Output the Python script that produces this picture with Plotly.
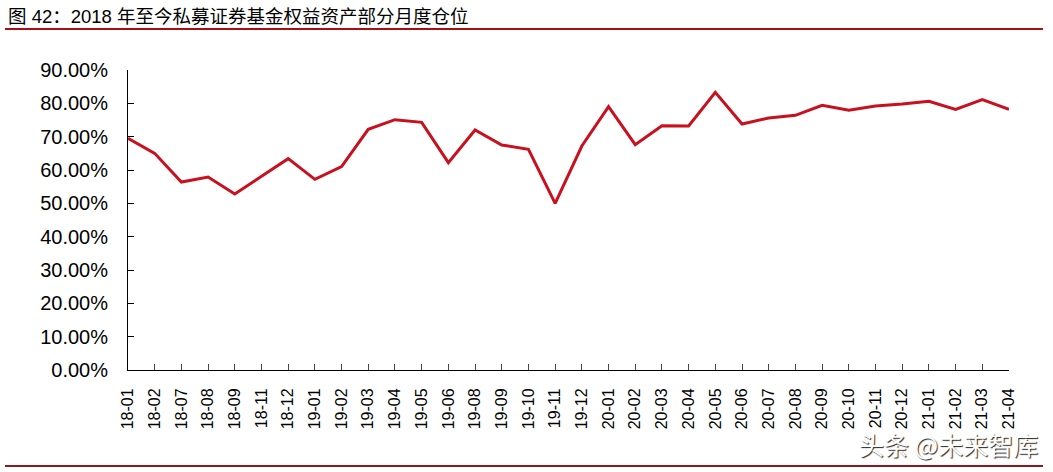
import plotly.graph_objects as go

categories = ["18-01", "18-02", "18-07", "18-08", "18-09", "18-11", "18-12",
              "19-01", "19-02", "19-03", "19-04", "19-05", "19-06", "19-08",
              "19-09", "19-10", "19-11", "19-12", "20-01", "20-02", "20-03",
              "20-04", "20-05", "20-06", "20-07", "20-08", "20-09", "20-10",
              "20-11", "20-12", "21-01", "21-02", "21-03", "21-04"]
position_pct = [69.5, 65.0, 56.4, 57.9, 52.8, 58.1, 63.4,
                57.2, 61.0, 72.2, 75.1, 74.3, 62.2, 72.0,
                67.5, 66.2, 50.0, 67.2, 79.0, 67.6, 73.3,
                73.2, 83.3, 73.8, 75.6, 76.4, 79.4, 77.9,
                79.2, 79.8, 80.6, 78.2, 81.1, 78.2]
y_ticks = [0, 10, 20, 30, 40, 50, 60, 70, 80, 90]
y_tick_labels = [f"{v:.2f}%" for v in y_ticks]

W, H = 1053, 472
L, R, T, B = 128, 1009, 70, 370

def px(x):
    return (x - L) / (R - L)

def py(y):
    return (B - y) / (B - T)

FONT = "Arial, Liberation Sans, Noto Sans CJK SC, sans-serif"

fig = go.Figure()
fig.add_trace(go.Scatter(
    x=categories, y=position_pct, mode="lines",
    line=dict(color="#C8101E", width=3),
    showlegend=False, hoverinfo="skip"))

fig.update_layout(
    width=W, height=H,
    margin=dict(l=L, r=W - R, t=T, b=H - B),
    paper_bgcolor="white", plot_bgcolor="white",
    font=dict(family=FONT, color="black"),
    xaxis=dict(
        type="category", range=[0, len(categories) - 1],
        showline=True, linecolor="black", linewidth=1,
        ticks="inside", ticklen=6, tickcolor="#444", tickwidth=1,
        tickangle=-90, tickfont=dict(size=16, family=FONT),
        ticklabelstandoff=11, showgrid=False, zeroline=False),
    yaxis=dict(
        range=[0, 90], tickvals=y_ticks, ticktext=y_tick_labels,
        showline=True, linecolor="black", linewidth=1,
        ticks="inside", ticklen=6, tickcolor="black", tickwidth=1,
        tickfont=dict(size=20, family=FONT),
        ticklabelstandoff=15, showgrid=False, zeroline=False),
    shapes=[
        dict(type="line", xref="paper", yref="paper",
             x0=px(5), x1=px(1043), y0=py(29), y1=py(29),
             line=dict(color="#A50F15", width=2)),
        dict(type="line", xref="paper", yref="paper",
             x0=px(5), x1=px(1043), y0=py(466), y1=py(466),
             line=dict(color="#8B1A1A", width=2)),
    ],
    annotations=[
        dict(text="图 42：2018 年至今私募证券基金权益资产部分月度仓位",
             xref="paper", yref="paper", x=px(6), y=py(16),
             xanchor="left", yanchor="middle", showarrow=False,
             font=dict(size=18.5, family=FONT, color="black")),
        dict(text="头条 @未来智库",
             xref="paper", yref="paper", x=px(1040), y=py(444),
             xanchor="right", yanchor="middle", showarrow=False,
             font=dict(size=25, family="Noto Sans CJK SC, sans-serif",
                       color="white", shadow="1px 1px 1px #222")),
    ],
)

fig.write_html("out.html")
